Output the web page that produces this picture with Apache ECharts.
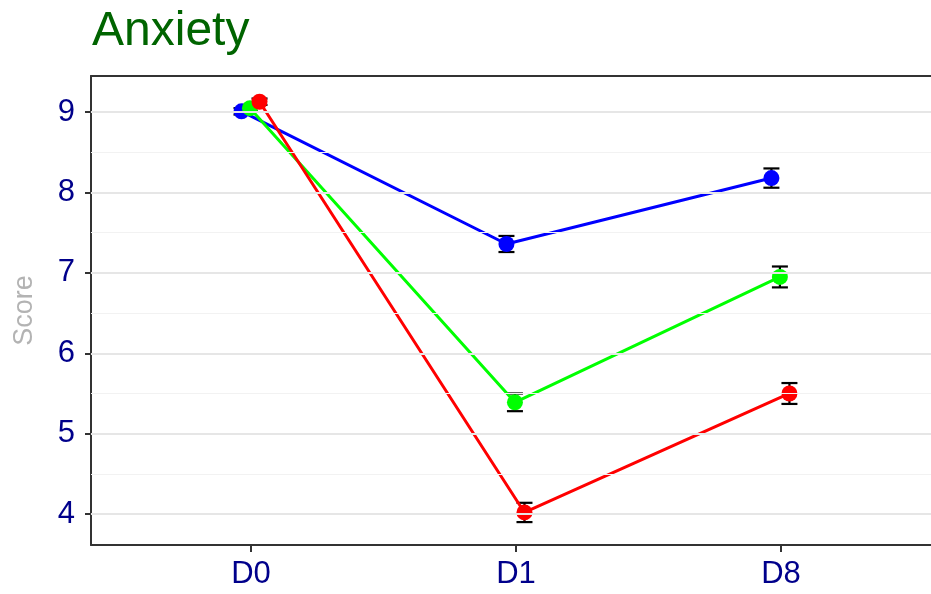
<!DOCTYPE html>
<html>
<head>
<meta charset="utf-8">
<script src="https://cdn.jsdelivr.net/npm/echarts@6/dist/echarts.min.js"></script>
<style>
html,body{margin:0;padding:0;background:#fff;overflow:hidden;width:931px;height:594px;}
#chart{width:1100px;height:594px;}
</style>
</head>
<body>
<div id="chart"></div>
<script>
// ---- data ----
var categories = ['D0', 'D1', 'D8'];
var seriesNames = ['Blue group', 'Green group', 'Red group'];
var blueMean = [9.01, 7.36, 8.18];
var blueErr = [0.04, 0.10, 0.12];
var greenMean = [9.05, 5.39, 6.95];
var greenErr = [0.04, 0.11, 0.13];
var redMean = [9.13, 4.02, 5.50];
var redErr = [0.04, 0.12, 0.13];
var yTicks = [4, 5, 6, 7, 8, 9];
var yMinorGrid = [4.5, 5.5, 6.5, 7.5, 8.5];

// ---- styling ----
var colors = ['#0000FF', '#00FF00', '#FF0000'];
var dodge = [-0.036, -0.004, 0.032];
var means = [blueMean, greenMean, redMean];
var errs = [blueErr, greenErr, redErr];
var FONT = '"Liberation Sans", Arial, Helvetica, sans-serif';

var series = [];

// gridlines (behind everything)
series.push({
  type: 'line', data: [], silent: true, z: 0,
  markLine: {
    silent: true, symbol: 'none', label: {show: false}, animation: false,
    lineStyle: {color: '#f2f2f2', width: 1, type: 'solid'},
    data: yMinorGrid.map(function (v) { return {yAxis: v}; })
  }
});
series.push({
  type: 'line', data: [], silent: true, z: 0,
  markLine: {
    silent: true, symbol: 'none', label: {show: false}, animation: false,
    lineStyle: {color: '#e6e6e6', width: 2, type: 'solid'},
    data: yTicks.map(function (v) { return {yAxis: v}; })
  }
});

// error bars
for (var s = 0; s < 3; s++) {
  var ebData = categories.map(function (c, i) {
    return [i + dodge[s], means[s][i], means[s][i] - errs[s][i], means[s][i] + errs[s][i]];
  });
  series.push({
    type: 'custom', z: 1, silent: true,
    data: ebData,
    encode: {x: 0, y: [1, 2, 3]},
    renderItem: function (params, api) {
      var x = api.value(0);
      var lo = api.coord([x, api.value(2)]);
      var hi = api.coord([x, api.value(3)]);
      var hw = 8;
      var st = {stroke: '#000', lineWidth: 2.2};
      return {
        type: 'group',
        children: [
          {type: 'line', shape: {x1: lo[0], y1: lo[1], x2: hi[0], y2: hi[1]}, style: st},
          {type: 'line', shape: {x1: lo[0] - hw, y1: lo[1], x2: lo[0] + hw, y2: lo[1]}, style: st},
          {type: 'line', shape: {x1: hi[0] - hw, y1: hi[1], x2: hi[0] + hw, y2: hi[1]}, style: st}
        ]
      };
    }
  });
}

// lines + points
for (var k = 0; k < 3; k++) {
  series.push({
    name: seriesNames[k],
    type: 'line', z: 2,
    data: categories.map(function (c, i) { return [i + dodge[k], means[k][i]]; }),
    symbol: 'circle', symbolSize: 16,
    itemStyle: {color: colors[k]},
    lineStyle: {color: colors[k], width: 3},
    animation: false
  });
}

var chart = echarts.init(document.getElementById('chart'));
chart.setOption({
  animation: false,
  backgroundColor: '#fff',
  title: {
    text: 'Anxiety', left: 87, top: 3,
    textStyle: {color: '#006400', fontSize: 48, fontWeight: 'normal', fontFamily: FONT}
  },
  grid: {
    left: 91, right: 159, top: 76, bottom: 49,
    outerBoundsMode: 'none', containLabel: false,
    show: false
  },
  xAxis: [{
    type: 'value', min: -0.604, max: 2.604,
    axisLine: {show: true, onZero: false, lineStyle: {color: '#333', width: 2}},
    axisTick: {show: true, length: 7, lineStyle: {color: '#333', width: 2}, customValues: [0, 1, 2]},
    axisLabel: {
      customValues: [0, 1, 2], margin: 14,
      color: '#00008B', fontSize: 31, fontFamily: FONT,
      formatter: function (v) { return categories[Math.round(v)]; }
    },
    splitLine: {show: false}
  }, {
    type: 'value', position: 'top', min: -0.604, max: 2.604,
    axisLine: {show: true, onZero: false, lineStyle: {color: '#333', width: 2}},
    axisTick: {show: false}, axisLabel: {show: false}, splitLine: {show: false}
  }],
  yAxis: {
    type: 'value', min: 3.615, max: 9.45,
    name: 'Score', nameLocation: 'middle', nameGap: 53,
    nameTextStyle: {color: '#b3b3b3', fontSize: 27, fontFamily: FONT},
    axisLine: {show: true, onZero: false, lineStyle: {color: '#333', width: 2}},
    axisTick: {show: true, length: 6, lineStyle: {color: '#333', width: 2}, customValues: yTicks},
    axisLabel: {customValues: yTicks, margin: 16, color: '#00008B', fontSize: 31, fontFamily: FONT},
    splitLine: {show: false}
  },
  series: series
});
</script>
</body>
</html>
